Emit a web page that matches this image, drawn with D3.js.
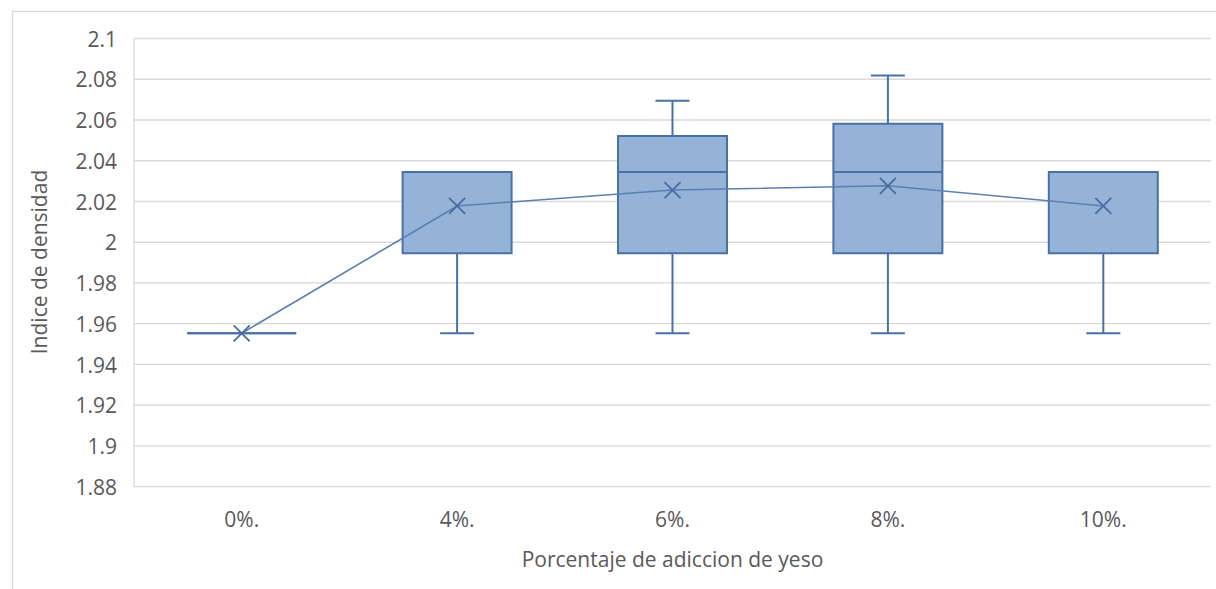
<!DOCTYPE html>
<html>
<head>
<meta charset="utf-8">
<script src="https://cdn.jsdelivr.net/npm/d3@7"></script>
<style>
  html, body { margin: 0; padding: 0; background: #ffffff; }
  svg { display: block; }
  text { font-family: "Open Sans", "Noto Sans", sans-serif; fill: #595959; }
</style>
</head>
<body>
<svg id="chart" width="1216" height="589"></svg>
<script>
// Densidad por porcentaje de yeso: resumen de cinco números y media
const categories = ["0%.", "4%.", "6%.", "8%.", "10%."];
const mins    = [1.9553, 1.9553, 1.9553, 1.9553, 1.9553];
const q1      = [1.9553, 1.9946, 1.9946, 1.9946, 1.9946];
const medians = [1.9553, 2.0345, 2.0345, 2.0345, 2.0345];
const q3      = [1.9553, 2.0345, 2.0521, 2.0582, 2.0345];
const maxs    = [1.9553, 2.0345, 2.0695, 2.0818, 2.0345];
const means   = [1.9553, 2.0178, 2.0256, 2.0277, 2.0178];
const yTicks  = [1.88, 1.9, 1.92, 1.94, 1.96, 1.98, 2, 2.02, 2.04, 2.06, 2.08, 2.1];

const rows = categories.map((c, i) => ({
  cat: c, min: mins[i], q1: q1[i], med: medians[i], q3: q3[i], max: maxs[i], mean: means[i]
}));

const svg = d3.select("#chart");
const plot = { left: 134, right: 1211, top: 38.5, bottom: 486.7 };
const fontSize = "21px";

const x = d3.scaleBand().domain(categories).range([plot.left, plot.right]).paddingInner(0).paddingOuter(0);
const y = d3.scaleLinear().domain([1.88, 2.1]).range([plot.bottom, plot.top]);

const fill = "#95b3d7", stroke = "#4a71a5";
const boxW = x.bandwidth() * 0.506;
const capW = 34;

// chart frame (left and top edges)
svg.append("path")
  .attr("d", `M12.5,589 V11.5 H1216`)
  .attr("fill", "none").attr("stroke", "#d9d9d9").attr("stroke-width", 1.3);

// gridlines
svg.append("g").selectAll("line").data(yTicks).join("line")
  .attr("x1", plot.left).attr("x2", plot.right)
  .attr("y1", d => y(d)).attr("y2", d => y(d))
  .attr("stroke", "#d9d9d9").attr("stroke-width", 1.3);

// vertical axis line
svg.append("line")
  .attr("x1", plot.left).attr("x2", plot.left)
  .attr("y1", y(2.1)).attr("y2", y(1.88))
  .attr("stroke", "#d9d9d9").attr("stroke-width", 1.3);

// y axis labels
const yAxis = d3.axisLeft(y).tickValues(yTicks).tickSize(0).tickPadding(0)
  .tickFormat(d => d3.format("")(+d.toFixed(2)));
const gy = svg.append("g").attr("transform", `translate(117,0)`).call(yAxis);
gy.select(".domain").remove();
gy.selectAll("text").style("font-size", fontSize).attr("fill", "#595959")
  .style("font-family", "'Open Sans', sans-serif").attr("dy", "0.36em");

// x axis labels
const xAxis = d3.axisBottom(x).tickSize(0).tickPadding(0);
const gx = svg.append("g").attr("transform", `translate(0,${plot.bottom})`).call(xAxis);
gx.select(".domain").remove();
gx.selectAll("text").style("font-size", fontSize).attr("fill", "#595959")
  .style("font-family", "'Open Sans', sans-serif").attr("y", 0).attr("dy", 40);

// axis titles
svg.append("text").attr("x", x("6%.") + x.bandwidth() / 2).attr("y", 567)
  .attr("text-anchor", "middle").style("font-size", fontSize).text("Porcentaje de adiccion de yeso");
svg.append("text").attr("transform", `translate(47,262) rotate(-90)`)
  .attr("text-anchor", "middle").style("font-size", fontSize).text("Indice de densidad");

const cx = d => x(d.cat) + x.bandwidth() / 2;
const g = svg.append("g");

// whiskers
g.selectAll(".whisk").data(rows).join("path").attr("class", "whisk")
  .attr("d", d => {
    const c = cx(d);
    let p = "";
    if (d.max > d.q3) p += `M${c},${y(d.q3)}V${y(d.max)}M${c - capW / 2},${y(d.max)}H${c + capW / 2}`;
    if (d.min < d.q1) p += `M${c},${y(d.q1)}V${y(d.min)}M${c - capW / 2},${y(d.min)}H${c + capW / 2}`;
    return p || null;
  })
  .attr("fill", "none").attr("stroke", stroke).attr("stroke-width", 2);

// boxes (a collapsed box shows as a single line)
g.selectAll(".box").data(rows).join("path").attr("class", "box")
  .attr("d", d => {
    const l = cx(d) - boxW / 2, r = cx(d) + boxW / 2;
    return `M${l},${y(d.q3)}H${r}V${y(d.q1)}H${l}Z`;
  })
  .attr("fill", fill).attr("stroke", stroke).attr("stroke-width", 2);

// median lines
g.selectAll(".med").data(rows).join("line").attr("class", "med")
  .attr("x1", d => cx(d) - boxW / 2).attr("x2", d => cx(d) + boxW / 2)
  .attr("y1", d => y(d.med)).attr("y2", d => y(d.med))
  .attr("stroke", stroke).attr("stroke-width", 2);

// mean line
const line = d3.line().x(cx).y(d => y(d.mean));
g.append("path").datum(rows).attr("d", line)
  .attr("fill", "none").attr("stroke", "#5a7fb0").attr("stroke-width", 1.6);

// mean markers
const m = 8;
g.selectAll(".mean").data(rows).join("path").attr("class", "mean")
  .attr("d", d => {
    const c = cx(d), v = y(d.mean);
    return `M${c - m},${v - m}L${c + m},${v + m}M${c - m},${v + m}L${c + m},${v - m}`;
  })
  .attr("fill", "none").attr("stroke", "#4a6c9c").attr("stroke-width", 1.8);
</script>
</body>
</html>
